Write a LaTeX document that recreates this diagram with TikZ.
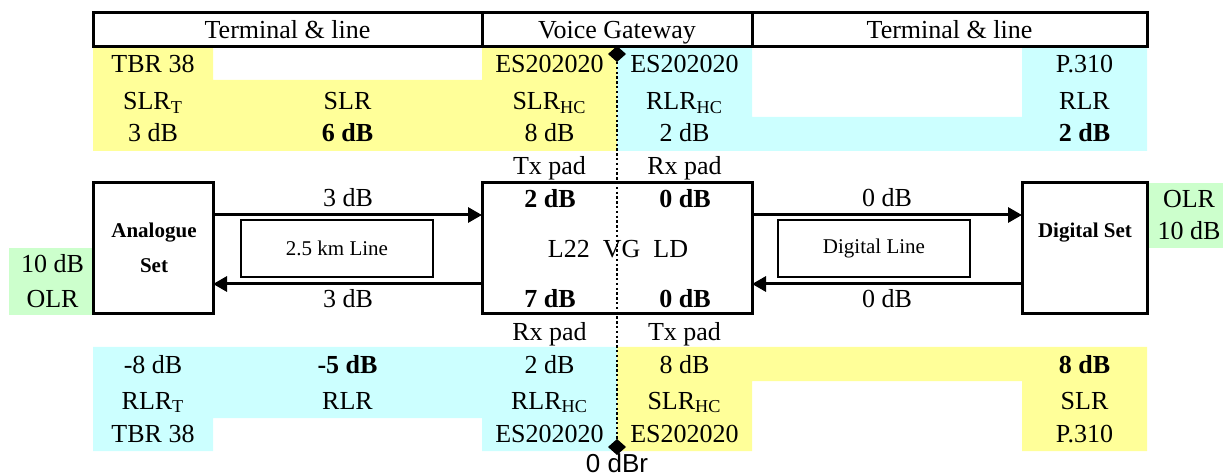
\documentclass[tikz,border=0pt]{standalone}
\usepackage{fontspec}
\setmainfont{Liberation Serif}
\newfontfamily\arialfont{Liberation Sans}
\usetikzlibrary{arrows.meta,shapes.geometric}
\definecolor{cellyellow}{HTML}{FFFF99}
\definecolor{cellcyan}{HTML}{CCFFFF}
\definecolor{cellgreen}{HTML}{CCFFCC}
\newcommand{\bigtext}{\fontsize{13pt}{15pt}\selectfont}
\newcommand{\smalltext}{\fontsize{10.5pt}{12.5pt}\selectfont}

\begin{document}
\begin{tikzpicture}[
  x=0.5pt, y=-0.5pt,
  every node/.style = {inner sep=0pt, outer sep=0pt},
  cell/.style = {anchor=base, font=\bigtext},
  boldcell/.style = {anchor=base, font=\bigtext\bfseries},
  setlabel/.style = {anchor=base, font=\smalltext\bfseries},
  setbox/.style = {draw, line width=1.5pt, minimum width=#1, minimum height=65.5pt},
  linebox/.style = {draw, line width=1pt, minimum width=96pt, minimum height=28.5pt, font=\smalltext},
  signal/.style = {line width=1.5pt, -{Triangle[length=7pt, width=7.5pt]}},
  refdiamond/.style = {diamond, fill, minimum width=9pt, minimum height=8pt}
]
  \useasboundingbox (0,0) rectangle (1223,476);

  % coloured cells
  \fill[cellyellow] (93,48) -- (213,48) -- (213,80) -- (482,80) -- (482,48) -- (617,48)
    -- (617,151) -- (93,151) -- cycle;
  \fill[cellcyan] (617,48) -- (752,48) -- (752,117) -- (1022,117) -- (1022,48) -- (1147,48)
    -- (1147,151) -- (617,151) -- cycle;
  \fill[cellcyan] (93,347) -- (617,347) -- (617,451) -- (482,451) -- (482,418) -- (213,418)
    -- (213,451) -- (93,451) -- cycle;
  \fill[cellyellow] (617,347) -- (1147,347) -- (1147,451) -- (1022,451) -- (1022,381) -- (752,381)
    -- (752,451) -- (617,451) -- cycle;
  \fill[cellgreen] (9,248) rectangle (92,315);
  \fill[cellgreen] (1148,183) rectangle (1223,248);

  % header
  \draw[line width=1.5pt] (93,13) rectangle (1147,47);
  \draw[line width=1.5pt] (482,13) -- (482,47) (752,13) -- (752,47);
  \node[cell] (hleft) at (287.5,39) {Terminal \& line};
  \node[cell] (hmid) at (617,39) {Voice Gateway};
  \node[cell] (hright) at (949.5,39) {Terminal \& line};

  % upper rows
  \node[cell] (ua1) at (153,73) {TBR 38};
  \node[cell] (ua2) at (153,110) {SLR\textsubscript{T}};
  \node[cell] (ua3) at (153,142) {3 dB};
  \node[cell] (ub2) at (347.5,110) {SLR};
  \node[boldcell] (ub3) at (347.5,142) {6 dB};
  \node[cell] (uc1) at (549.5,73) {ES202020};
  \node[cell] (uc2) at (549.5,110) {SLR\textsubscript{HC}};
  \node[cell] (uc3) at (549.5,142) {8 dB};
  \node[cell] (ud1) at (684.5,73) {ES202020};
  \node[cell] (ud2) at (684.5,110) {RLR\textsubscript{HC}};
  \node[cell] (ud3) at (684.5,142) {2 dB};
  \node[cell] (uf1) at (1084.5,73) {P.310};
  \node[cell] (uf2) at (1084.5,110) {RLR};
  \node[boldcell] (uf3) at (1084.5,142) {2 dB};
  \node[cell] (txtop) at (549.5,175) {Tx pad};
  \node[cell] (rxtop) at (684.5,175) {Rx pad};

  % sets, gateway and lines
  \node[setbox=60pt] (analogue) at (153,248.5) {};
  \node[setbox=135pt] (vg) at (617,248.5) {};
  \node[setbox=62.5pt] (digital) at (1084.5,248.5) {};
  \node[setlabel] (analoguea) at (154,238) {Analogue};
  \node[setlabel] (analogueb) at (154,273) {Set};
  \node[setlabel] (digitala) at (1085,238) {Digital Set};
  \node[linebox] (aline) at (337,248.5) {2.5 km Line};
  \node[linebox] (dline) at (874,248.5) {Digital Line};
  \node[boldcell] (vgtx) at (550,208) {2 dB};
  \node[boldcell] (vgrx) at (685,208) {0 dB};
  \node[cell] (vgname) at (618,257) {L22~~VG~~LD};
  \node[boldcell] (vgrxb) at (550,307) {7 dB};
  \node[boldcell] (vgtxb) at (685,307) {0 dB};

  \draw[signal] ([yshift=16.75pt]analogue.east) -- ([yshift=16.75pt]vg.west);
  \draw[signal] ([yshift=-17.75pt]vg.west) -- ([yshift=-17.75pt]analogue.east);
  \draw[signal] ([yshift=16.75pt]vg.east) -- ([yshift=16.75pt]digital.west);
  \draw[signal] ([yshift=-17.75pt]digital.west) -- ([yshift=-17.75pt]vg.east);
  \node[cell] (asend) at (348,207) {3 dB};
  \node[cell] (arecv) at (348,307) {3 dB};
  \node[cell] (dsend) at (887,207) {0 dB};
  \node[cell] (drecv) at (887,307) {0 dB};

  \node[cell] (olrl1) at (52.5,273) {10 dB};
  \node[cell] (olrl2) at (52.5,307) {OLR};
  \node[cell] (olrr1) at (1189,208) {OLR};
  \node[cell] (olrr2) at (1189,240) {10 dB};

  % lower rows
  \node[cell] (rxbot) at (549.5,341) {Rx pad};
  \node[cell] (txbot) at (684.5,341) {Tx pad};
  \node[cell] (la1) at (153,373) {-8 dB};
  \node[cell] (la2) at (153,409) {RLR\textsubscript{T}};
  \node[cell] (la3) at (153,443) {TBR 38};
  \node[boldcell] (lb1) at (347.5,373) {-5 dB};
  \node[cell] (lb2) at (347.5,409) {RLR};
  \node[cell] (lc1) at (549.5,373) {2 dB};
  \node[cell] (lc2) at (549.5,409) {RLR\textsubscript{HC}};
  \node[cell] (lc3) at (549.5,443) {ES202020};
  \node[cell] (ld1) at (684.5,373) {8 dB};
  \node[cell] (ld2) at (684.5,409) {SLR\textsubscript{HC}};
  \node[cell] (ld3) at (684.5,443) {ES202020};
  \node[boldcell] (lf1) at (1084.5,373) {8 dB};
  \node[cell] (lf2) at (1084.5,409) {SLR};
  \node[cell] (lf3) at (1084.5,443) {P.310};

  % 0 dBr reference point
  \node[refdiamond] (reftop) at (617,54) {};
  \node[refdiamond] (refbot) at (617,447) {};
  \draw[line width=1.2pt, dash pattern=on 1.2pt off 1.2pt] (reftop) -- (refbot);
  \node[anchor=base, font=\arialfont\bigtext] (zerodbr) at (617,473) {0 dBr};
\end{tikzpicture}
\end{document}
